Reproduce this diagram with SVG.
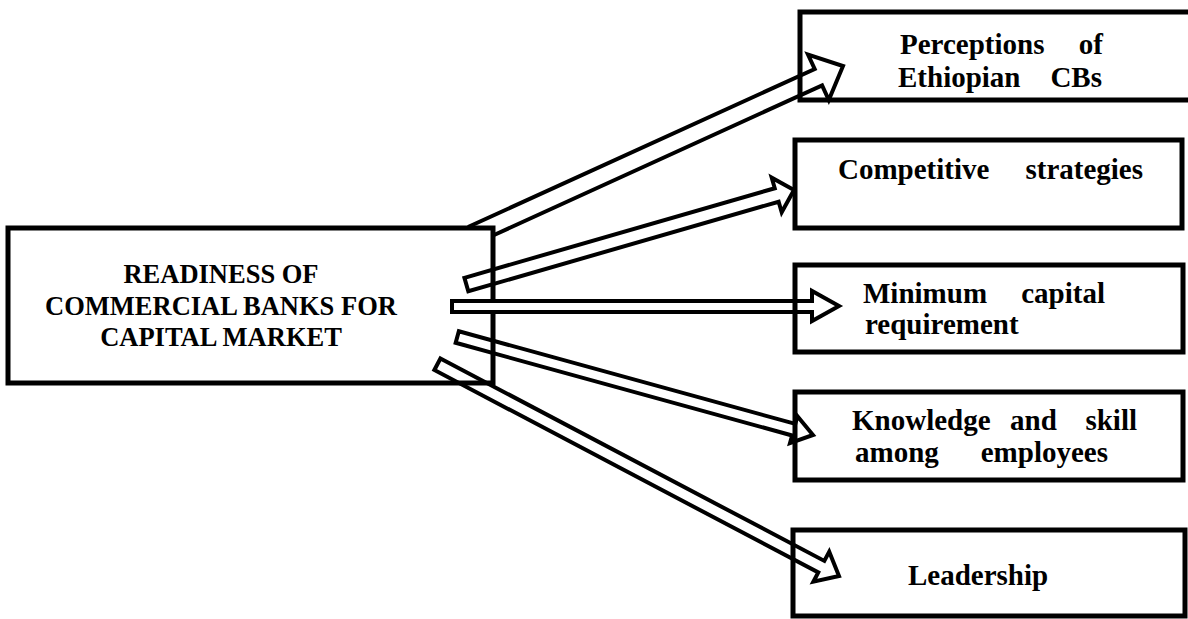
<svg xmlns="http://www.w3.org/2000/svg" width="1188" height="619" viewBox="0 0 1188 619">
<style>
.box{fill:none;stroke:#000;stroke-width:5}
.mainbox{fill:#fff;stroke:#000;stroke-width:5}
.arr{fill:none;stroke:#000;stroke-width:4;stroke-linejoin:miter}
.arrw{fill:#fff;stroke:#000;stroke-width:4;stroke-linejoin:miter}
text{font-family:"Liberation Serif","Times New Roman",serif;font-weight:bold;fill:#000}
.m{font-size:26.5px}
.r{font-size:29px}
</style>
<rect width="1188" height="619" fill="#fff"/>
<g id="main">
<rect class="mainbox" x="8" y="228" width="485" height="155"/>
<text class="m" text-anchor="middle"><tspan x="221" y="283">READINESS OF</tspan><tspan x="221" y="315">COMMERCIAL BANKS FOR</tspan><tspan x="221" y="346">CAPITAL MARKET</tspan></text>
</g>
<g id="connectors">
<path id="a1" class="arr" d="M468,227 L814.7,69 L808,54.5 L843,66 L828.8,100 L822.1,85.4 L493,235.5"/>
<polygon id="a2" class="arr" transform="translate(794,190) rotate(-16.1)" points="-341,-7 -18,-7 -18,-18 0,0 -18,18 -18,7 -341,7"/>
<polygon id="a4" class="arr" transform="translate(813,435) rotate(15.4)" points="-369,-6 -20,-6 -20,-14 0,0 -20,14 -20,6 -369,6"/>
<polygon id="a5" class="arr" transform="translate(839,576) rotate(27.8)" points="-454,-6.5 -20,-6.5 -20,-17 0,0 -20,17 -20,6.5 -454,6.5"/>
<polygon id="a3" class="arrw" points="452,301 812,301 812,291 839,306 812,321 812,312 452,312"/>
</g>
<g id="n1">
<path class="box" d="M1190,12 L800,12 L800,100 L1190,100"/>
<text class="r"><tspan x="900" y="54">Perceptions</tspan><tspan x="1103" y="54" text-anchor="end">of</tspan><tspan x="898" y="87">Ethiopian</tspan><tspan x="1102" y="87" text-anchor="end">CBs</tspan></text>
</g>
<g id="n2">
<rect class="box" x="795" y="140" width="387" height="88"/>
<text class="r"><tspan x="838" y="179">Competitive</tspan><tspan x="1143" y="179" text-anchor="end">strategies</tspan></text>
</g>
<g id="n3">
<rect class="box" x="795" y="265" width="388" height="87"/>
<text class="r"><tspan x="863" y="303">Minimum</tspan><tspan x="1105" y="303" text-anchor="end">capital</tspan><tspan x="865" y="334">requirement</tspan></text>
</g>
<g id="n4">
<rect class="box" x="795" y="392" width="388" height="88"/>
<text class="r"><tspan x="852" y="430">Knowledge</tspan><tspan x="1010" y="430">and</tspan><tspan x="1137" y="430" text-anchor="end">skill</tspan><tspan x="855" y="462">among</tspan><tspan x="1108" y="462" text-anchor="end">employees</tspan></text>
</g>
<g id="n5">
<rect class="box" x="793" y="530" width="392" height="86"/>
<text class="r"><tspan x="908" y="585">Leadership</tspan></text>
</g>
</svg>
